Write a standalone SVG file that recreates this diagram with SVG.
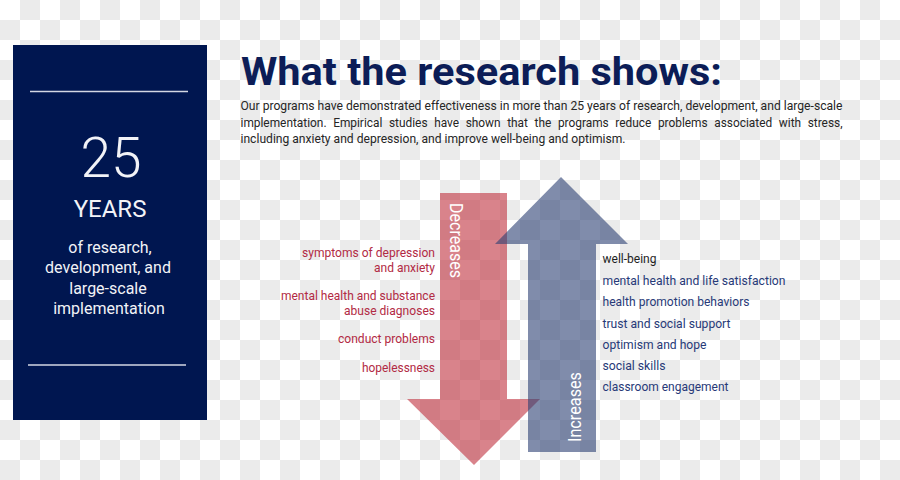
<svg xmlns="http://www.w3.org/2000/svg" width="900" height="480" viewBox="0 0 900 480">
  <defs>
    <pattern id="checker" x="0" y="0" width="40" height="40" patternUnits="userSpaceOnUse">
      <rect x="0" y="0" width="40" height="40" fill="#ffffff"/>
      <rect x="20" y="0" width="20" height="20" fill="#ebebeb"/>
      <rect x="0" y="20" width="20" height="20" fill="#ebebeb"/>
    </pattern>
    <style>
      .box-text { font-family: Roboto, "Liberation Sans", sans-serif; fill: #f2f3f7; text-anchor: middle; }
      .title { font-family: Roboto, "Liberation Sans", sans-serif; font-weight: 700; font-size: 38px; fill: #0c1d57; }
      .para { font-family: Roboto, "Liberation Sans", sans-serif; font-size: 13px; fill: #262626; }
      .dec { font-family: Roboto, "Liberation Sans", sans-serif; font-size: 13.5px; fill: #b22a44; }
      .inc { font-family: Roboto, "Liberation Sans", sans-serif; font-size: 13.5px; fill: #283a78; }
      .arrow-label { font-family: Roboto, "Liberation Sans", sans-serif; font-weight: 400; font-size: 18px; fill: #ffffff; }
      .rule { stroke: #d3d7e3; stroke-width: 1.5; }
    </style>
  </defs>

  <rect x="0" y="0" width="900" height="480" fill="url(#checker)"/>

  <g id="years-box">
    <rect x="13" y="45" width="194" height="375" fill="#001650"/>
    <line class="rule" x1="30" y1="91.5" x2="188" y2="91.5"/>
    <text class="box-text" x="111" y="177" font-size="55" font-weight="300">25</text>
    <text class="box-text" x="110" y="217" font-size="24">YEARS</text>
    <text class="box-text" x="110" y="253" font-size="16">of research,</text>
    <text class="box-text" x="108" y="273" font-size="16">development, and</text>
    <text class="box-text" x="108" y="294" font-size="16">large-scale</text>
    <text class="box-text" x="109" y="314" font-size="16">implementation</text>
    <line class="rule" x1="28" y1="365" x2="186" y2="365"/>
  </g>

  <g id="title">
    <text class="title" x="241" y="84.5" textLength="481" lengthAdjust="spacingAndGlyphs">What the research shows:</text>
  </g>

  <g id="intro">
    <text class="para" x="240.5" y="110" textLength="602" lengthAdjust="spacingAndGlyphs">Our programs have demonstrated effectiveness in more than 25 years of research, development, and large-scale</text>
    <text class="para" x="240.5" y="126.7" textLength="602" lengthAdjust="spacingAndGlyphs" word-spacing="4">implementation. Empirical studies have shown that the programs reduce problems associated with stress,</text>
    <text class="para" x="240.5" y="143.3" textLength="385" lengthAdjust="spacingAndGlyphs">including anxiety and depression, and improve well-being and optimism.</text>
  </g>

  <g id="arrows">
    <g id="decrease-arrow">
      <polygon points="440,193 507,193 507,399 540,399 474,465 407,399 440,399" fill="#c0303d" fill-opacity="0.6"/>
      <text class="arrow-label" transform="translate(450,203) rotate(90)" textLength="75" lengthAdjust="spacingAndGlyphs">Decreases</text>
    </g>
    <g id="increase-arrow">
      <polygon points="561,177 628,244 596,244 596,452 528,452 528,244 495,244" fill="#2b3f73" fill-opacity="0.6"/>
      <text class="arrow-label" transform="translate(580.5,442) rotate(-90)" textLength="70" lengthAdjust="spacingAndGlyphs">Increases</text>
    </g>
  </g>

  <g id="decrease-labels">
    <text class="dec" x="302" y="257" textLength="133" lengthAdjust="spacingAndGlyphs">symptoms of depression</text>
    <text class="dec" x="374" y="272" textLength="61" lengthAdjust="spacingAndGlyphs">and anxiety</text>
    <text class="dec" x="281" y="300" textLength="154" lengthAdjust="spacingAndGlyphs">mental health and substance</text>
    <text class="dec" x="344" y="314.5" textLength="91" lengthAdjust="spacingAndGlyphs">abuse diagnoses</text>
    <text class="dec" x="338" y="343" textLength="97" lengthAdjust="spacingAndGlyphs">conduct problems</text>
    <text class="dec" x="362" y="371.5" textLength="73" lengthAdjust="spacingAndGlyphs">hopelessness</text>
  </g>

  <g id="increase-labels">
    <text class="inc" x="602.5" y="263" textLength="54" lengthAdjust="spacingAndGlyphs" style="fill:#1e1e1e">well-being</text>
    <text class="inc" x="602.5" y="284.5" textLength="183" lengthAdjust="spacingAndGlyphs">mental health and life satisfaction</text>
    <text class="inc" x="602.5" y="306" textLength="147" lengthAdjust="spacingAndGlyphs">health promotion behaviors</text>
    <text class="inc" x="602.5" y="327.5" textLength="128" lengthAdjust="spacingAndGlyphs">trust and social support</text>
    <text class="inc" x="602.5" y="348.5" textLength="104" lengthAdjust="spacingAndGlyphs">optimism and hope</text>
    <text class="inc" x="602.5" y="369.5" textLength="63" lengthAdjust="spacingAndGlyphs">social skills</text>
    <text class="inc" x="602.5" y="391" textLength="126" lengthAdjust="spacingAndGlyphs">classroom engagement</text>
  </g>
</svg>
